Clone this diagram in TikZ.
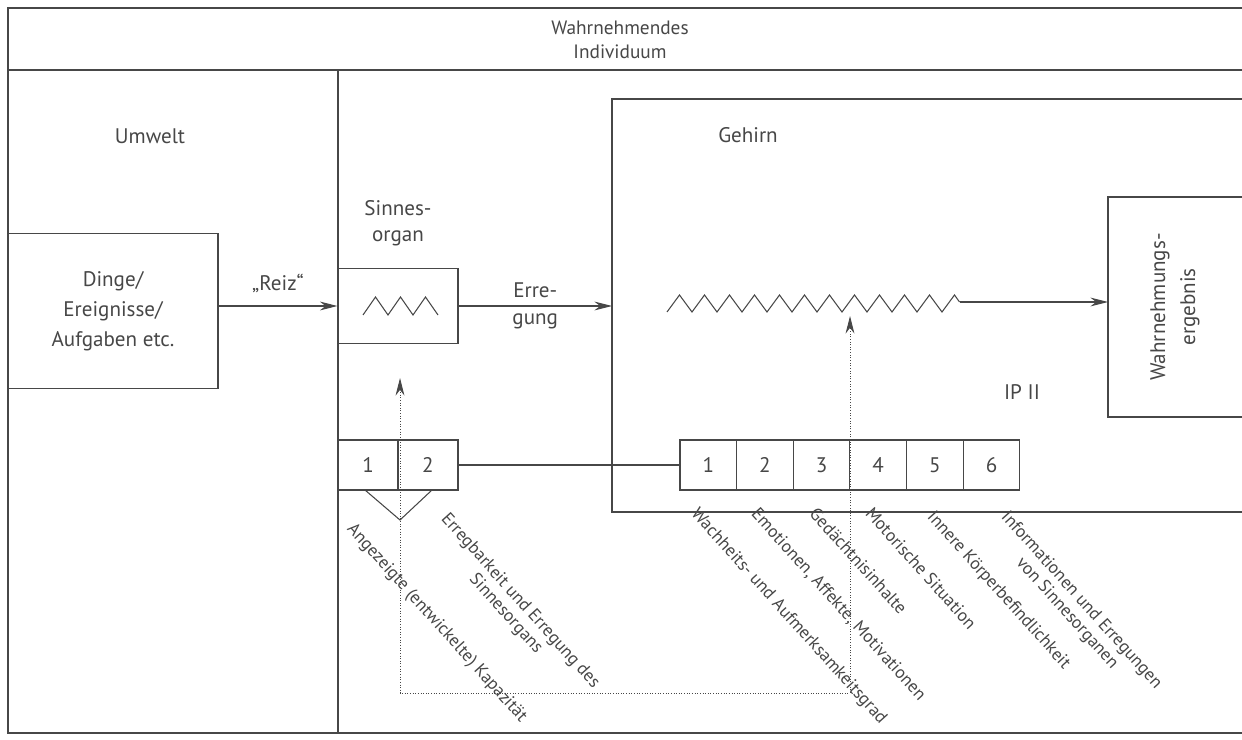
\documentclass[tikz,border=0pt]{standalone}
\usepackage{fontspec}
\setmainfont{PT Sans}
\usetikzlibrary{positioning,arrows.meta}
\tikzset{
 box/.style={draw, rectangle, inner sep=0pt},
 ipfeld/.style={draw, minimum height=1cm, minimum width=1.133cm, inner sep=0pt},
 schraeg/.style={rotate=-48, anchor=north west, font=\fontsize{10}{11}\selectfont, align=center, inner sep=1pt},
 pfeil/.style={-{Stealth[length=10pt,width=5pt]}},
}
\begin{document}
\begin{tikzpicture}[x=0.02cm, y=-0.02cm, line width=0.6pt, color=black!72, font=\fontsize{12}{17}\selectfont]
 \useasboundingbox (0,0) rectangle (1242,740);
 % Rahmen
 \draw (1242,8) -- (8,8) -- (8,733) -- (1242,733);
 \draw (8,70) -- (1242,70);
 \draw (338,70) -- (338,733);
 \node[align=center, font=\fontsize{11}{14}\selectfont] (titel) at (620,40) {Wahrnehmendes\\Individuum};
 %
 \node (umwelt) at (150,136) {Umwelt};
 \node[box, minimum width=4.2cm, minimum height=3.1cm, align=center] (dinge) at (113,311) {Dinge/\\Ereignisse/\\Aufgaben etc.};
 %
 \node[box, minimum width=2.4cm, minimum height=1.5cm] (sinn) at (398,306) {};
 \node[align=center, font=\fontsize{12}{15}\selectfont] (sinnlabel) at (398,223) {Sinnes-\\organ};
 \draw (363,315) \foreach \i in {1,2,3} { -- ++(12.5,-18) -- ++(12.5,18) };
 \draw[pfeil] (dinge.east |- sinn) -- (sinn.west) node[midway, above=4pt] {„Reiz“};
 %
 \coordinate (hirnNW) at (612,99);
 \draw (1242,99) -- (hirnNW) -- (612,512) -- (1242,512);
 \node (gehirn) at (748,135) {Gehirn};
 \draw[pfeil] (sinn.east) -- (sinn.east -| hirnNW) node[midway, above=1pt] {Erre-} node[midway, below=1pt] {gung};
 %
 \draw (667,312) \foreach \i in {1,...,11} { -- ++(12.5,-17) -- ++(12.5,17) } -- ++(12.5,-17) -- ++(5,7) coordinate (zzende);
 \draw (1242,197) -- (1108,197) -- (1108,417) -- (1242,417);
 \coordinate (ergW) at (1108,307);
 \node[rotate=90, align=center] (ergebnis) at (1175,307) {Wahrnehmungs-\\ergebnis};
 \draw[pfeil] (zzende) -- (zzende -| ergW);
 \node (ip2) at (1022,392) {IP II};
 %
 \node[ipfeld, minimum width=1.2cm] (ipa1) at (368,465) {1};
 \node[ipfeld, minimum width=1.2cm, right=-0.6pt of ipa1] (ipa2) {2};
 \draw (365,490) -- (400,520) -- (432,490);
 %
 \node[ipfeld] (ipb1) at (708.3,465) {1};
 \foreach \n [remember=\n as \m (initially 1)] in {2,...,6}
  \node[ipfeld, right=-0.6pt of ipb\m] (ipb\n) {\n};
 \draw (ipa2.east) -- (ipb1.west);
 %
 \coordinate (spitzeA) at (400,378);
 \coordinate (spitzeB) at (850,316);
 \draw[densely dotted, line width=0.5pt, {Stealth[length=10pt,width=5pt]}-{Stealth[length=10pt,width=5pt]}] (spitzeA) -- (400,693) -- (850,693) -- (spitzeB);
 %
 \node[schraeg] (l1) at (356,518) {Angezeigte (entwickelte) Kapazität};
 \node[schraeg] (l2) at (450,508) {Erregbarkeit und Erregung des\\Sinnesorgans};
 \node[schraeg] (l3) at (700,503) {Wachheits- und Aufmerksamkeitsgrad};
 \node[schraeg] (l4) at (760,503) {Emotionen, Affekte, Motivationen};
 \node[schraeg] (l5) at (818,503) {Gedächtnisinhalte};
 \node[schraeg] (l6) at (874,503) {Motorische Situation};
 \node[schraeg] (l7) at (936,506) {Innere Körperbefindlichkeit};
 \node[schraeg] (l8) at (1010,506) {Informationen und Erregungen\\von Sinnesorganen};
\end{tikzpicture}
\end{document}
